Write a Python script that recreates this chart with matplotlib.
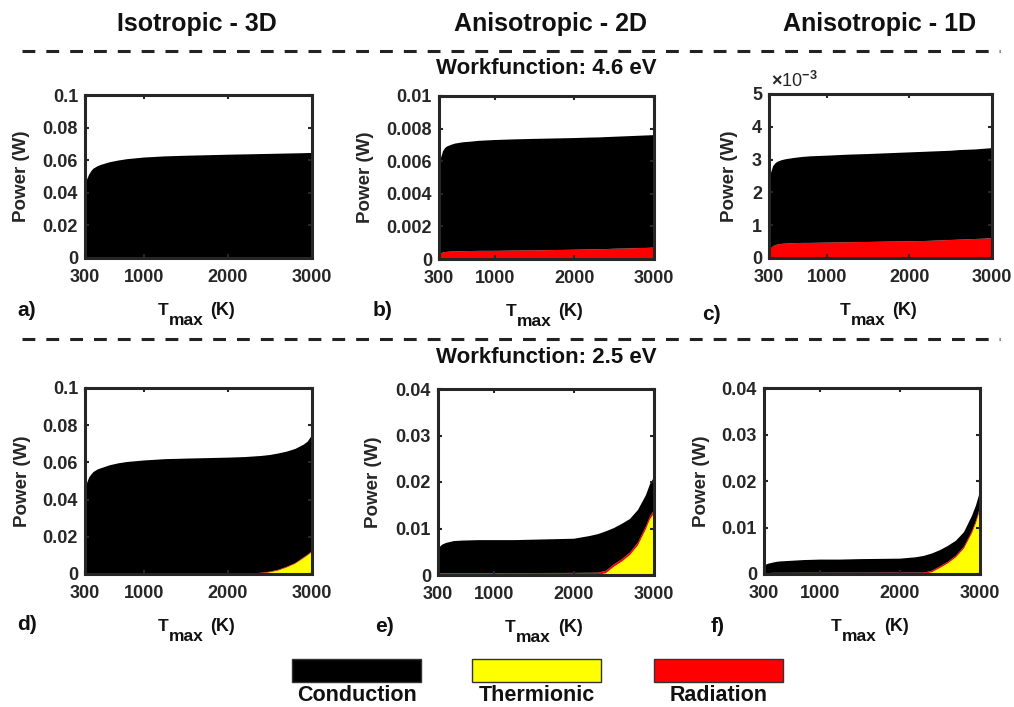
"""Power balance (conduction / thermionic / radiation) vs T_max for two workfunctions"""

import matplotlib as mpl
import matplotlib.pyplot as plt
from matplotlib.lines import Line2D
from matplotlib.patches import Rectangle
from matplotlib.ticker import FuncFormatter

mpl.rcParams["font.family"] = ["Liberation Sans", "DejaVu Sans"]
mpl.rcParams["font.weight"] = "bold"
mpl.rcParams["mathtext.fontset"] = "custom"
mpl.rcParams["mathtext.rm"] = "Liberation Sans"
mpl.rcParams["mathtext.bf"] = "Liberation Sans:bold"

# --- data ---
t_max = [300, 310, 325, 350, 375, 400, 450, 500, 600, 700, 800, 1000, 1250,
         1500, 2000, 2200, 2300, 2400, 2500, 2600, 2700, 2800, 2900, 2950, 3000]

# workfunction 4.6 eV
a_cond = [0.038, 0.044, 0.048, 0.051, 0.053, 0.0545, 0.056, 0.057, 0.0585, 0.0595,
          0.0603, 0.0613, 0.062, 0.0624, 0.063, 0.0632, 0.0633, 0.0634, 0.0635,
          0.0636, 0.0637, 0.0638, 0.0639, 0.064, 0.064]
a_rad = [0.0001, 0.00015, 0.0002, 0.00025, 0.00027, 0.00028, 0.0003, 0.0003, 0.00031,
         0.00032, 0.00032, 0.00033, 0.00034, 0.00034, 0.00036, 0.00037, 0.00037,
         0.00038, 0.00038, 0.00039, 0.0004, 0.0004, 0.00041, 0.00041, 0.00042]
a_th = [0.0] * 25

b_cond = [0.0045, 0.0054, 0.00585, 0.0062, 0.00638, 0.00646, 0.00654, 0.00661,
          0.00668, 0.00671, 0.00675, 0.0068, 0.00682, 0.00684, 0.00685, 0.00686,
          0.00686, 0.00687, 0.00687, 0.00688, 0.00689, 0.00689, 0.0069, 0.0069, 0.0069]
b_rad = [0.0002, 0.0003, 0.00035, 0.0004, 0.00042, 0.00044, 0.00046, 0.00047, 0.00048,
         0.00049, 0.0005, 0.0005, 0.00052, 0.00053, 0.00057, 0.00059, 0.0006, 0.00061,
         0.00063, 0.00064, 0.00065, 0.00067, 0.00068, 0.00069, 0.0007]
b_th = [0.0] * 25

c_cond = [0.0018, 0.0022, 0.0023, 0.00244, 0.00249, 0.00252, 0.00255, 0.00257,
          0.0026, 0.00262, 0.00264, 0.00265, 0.00267, 0.00268, 0.00271, 0.00272,
          0.00272, 0.00272, 0.00272, 0.00273, 0.00273, 0.00273, 0.00274, 0.00274, 0.00275]
c_rad = [0.00012, 0.00022, 0.0003, 0.00036, 0.00039, 0.00041, 0.00043, 0.00044,
         0.00045, 0.00046, 0.00046, 0.00047, 0.00048, 0.00049, 0.00051, 0.00052,
         0.00053, 0.00054, 0.00055, 0.00056, 0.00057, 0.00058, 0.00059, 0.0006, 0.0006]
c_th = [0.0] * 25

# workfunction 2.5 eV
d_cond = [0.0399, 0.0448, 0.0488, 0.0517, 0.0532, 0.0545, 0.0559, 0.0567, 0.0582,
          0.0592, 0.0599, 0.0607, 0.0614, 0.0617, 0.0622, 0.0625, 0.0628, 0.0628,
          0.0627, 0.0625, 0.0619, 0.0613, 0.0606, 0.0607, 0.0623]
d_rad = [0.0001, 0.00015, 0.0002, 0.00025, 0.00027, 0.00028, 0.0003, 0.0003, 0.00031,
         0.00032, 0.00032, 0.00033, 0.00034, 0.00034, 0.00036, 0.00037, 0.00037,
         0.00038, 0.00038, 0.00039, 0.0004, 0.0004, 0.00041, 0.00041, 0.00042]
d_th = [0, 0, 0, 0, 0, 0, 0, 0, 0, 0, 0, 0, 0, 0, 0, 0, 0, 0.0003, 0.0009,
        0.0019, 0.0035, 0.0055, 0.0085, 0.0101, 0.0119]

e_cond = [0.0048, 0.0053, 0.00575, 0.00613, 0.00632, 0.0065, 0.0067, 0.0069, 0.007,
          0.00705, 0.0071, 0.0071, 0.00708, 0.00717, 0.00735, 0.00792, 0.0083, 0.0085,
          0.0078, 0.0076, 0.0072, 0.007, 0.0067, 0.0069, 0.0071]
e_rad = [0.0002, 0.0003, 0.00035, 0.00037, 0.00038, 0.0004, 0.0004, 0.0004, 0.0004,
         0.0004, 0.0004, 0.0004, 0.00042, 0.00043, 0.00045, 0.00048, 0.0005, 0.0005,
         0.0005, 0.00052, 0.00055, 0.0006, 0.0006, 0.00065, 0.0007]
e_th = [0, 0, 0, 0, 0, 0, 0, 0, 0, 0, 0, 0, 0, 0, 0, 0, 0, 0.0004, 0.0018,
        0.0029, 0.0043, 0.0064, 0.0099, 0.012, 0.0132]

f_cond = [0.0012, 0.00155, 0.0018, 0.002, 0.00208, 0.00215, 0.00235, 0.00245, 0.00254,
          0.00264, 0.00273, 0.00283, 0.00282, 0.00292, 0.003, 0.0033, 0.0036, 0.0037,
          0.0035, 0.0034, 0.0032, 0.0031, 0.0033, 0.0033, 0.0034]
f_rad = [0.0001, 0.00015, 0.0002, 0.0002, 0.00022, 0.00025, 0.00025, 0.00025, 0.00026,
         0.00026, 0.00027, 0.00027, 0.00028, 0.00028, 0.0003, 0.0003, 0.0003, 0.00032,
         0.00033, 0.00035, 0.00037, 0.0004, 0.00042, 0.00045, 0.0005]
f_th = [0, 0, 0, 0, 0, 0, 0, 0, 0, 0, 0, 0, 0, 0, 0, 0, 0, 0.0004, 0.0013,
        0.0023, 0.0036, 0.0055, 0.0088, 0.011, 0.0138]

x_ticks = [300, 1000, 2000, 3000]
col_titles = ["Isotropic - 3D", "Anisotropic - 2D", "Anisotropic - 1D"]
row_titles = ["Workfunction: 4.6 eV", "Workfunction: 2.5 eV"]
legend_labels = ["Conduction", "Thermionic", "Radiation"]
colors = {"cond": "#000000", "th": "#ffff00", "rad": "#ff0000"}

# --- figure / layout in pixels ---
W, H = 1014, 707
fig = plt.figure(figsize=(W / 100, H / 100), dpi=100)
INK = "#262626"
TXT = "#111111"


def box(left, top, right, bottom):
    """pixel box -> figure fraction rect"""
    return [left / W, 1 - bottom / H, (right - left) / W, (bottom - top) / H]


def ftext(x, y, s, **kw):
    return fig.text(x / W, 1 - y / H, s, **kw)


panels = [
    # (letter, box, cond, rad, th, ymax, ystep, scale, ylabel_x, letter_xy)
    ("a)", (85, 95, 312, 258), a_cond, a_rad, a_th, 0.1, 0.02, 1, 22, (27, 311)),
    ("b)", (439, 96, 654, 259), b_cond, b_rad, b_th, 0.01, 0.002, 1, 365, (383, 311)),
    ("c)", (769, 94, 992, 258), c_cond, c_rad, c_th, 0.005, 0.001, 1e3, 730, (711, 314)),
    ("d)", (85, 388, 312, 574), d_cond, d_rad, d_th, 0.1, 0.02, 1, 23, (27, 624)),
    ("e)", (438, 389, 654, 575), e_cond, e_rad, e_th, 0.04, 0.01, 1, 373, (385, 626)),
    ("f)", (764, 388, 980, 574), f_cond, f_rad, f_th, 0.04, 0.01, 1, 701, (718, 626)),
]

for letter, (l, t, r, b), cond, rad, th, ymax, ystep, scale, ylx, (lx, ly) in panels:
    ax = fig.add_axes(box(l, t, r, b))
    # stacked: thermionic at the bottom, radiation, then conduction
    ax.stackplot(t_max, th, rad, cond,
                 colors=[colors["th"], colors["rad"], colors["cond"]],
                 linewidth=0, antialiased=True)
    ax.set_xlim(300, 3000)
    ax.set_ylim(0, ymax)
    ax.set_xticks(x_ticks)
    n = int(round(ymax / ystep))
    ax.set_yticks([i * ystep for i in range(n + 1)])
    ax.yaxis.set_major_formatter(FuncFormatter(lambda v, _, s=scale: f"{round(v * s, 6):g}"))
    ax.tick_params(direction="in", top=True, right=True, length=3, width=1.5,
                   color=INK, labelsize=13, labelcolor=INK)
    ax.tick_params(axis="x", pad=8)
    ax.tick_params(axis="y", pad=5)
    for lab in ax.get_xticklabels() + ax.get_yticklabels():
        lab.set_fontweight("bold")
    for sp in ax.spines.values():
        sp.set_linewidth(2.2)
        sp.set_color(INK)
        sp.set_zorder(5)

    ftext(ylx, (t + b) / 2, "Power (W)", rotation=90, ha="center", va="center",
          fontsize=13.5, color=INK)
    # T_max (K) with a MATLAB-style full size subscript
    cx = (l + r) / 2
    ftext(cx - 41, b + 57, "T", ha="left", va="baseline", fontsize=12.5, color=TXT)
    ftext(cx - 30, b + 67, "max", ha="left", va="baseline", fontsize=12.5, color=TXT)
    ftext(cx + 12, b + 57, "(K)", ha="left", va="baseline", fontsize=13, color=TXT)
    ftext(lx, ly, letter, ha="center", va="center", fontsize=15, color=TXT)

# x10^-3 multiplier on panel c
ftext(771, 87, r"$\times$10$^{-3}$", ha="left", va="baseline", fontsize=13,
      color=INK, fontweight="normal")

# column and row headings
for cx, s in zip([197, 550, 880], col_titles):
    ftext(cx, 31, s, ha="center", va="baseline", fontsize=18, color=TXT)
ftext(546, 74, row_titles[0], ha="center", va="baseline", fontsize=16, color=TXT)
ftext(546, 363, row_titles[1], ha="center", va="baseline", fontsize=16, color=TXT)

# dashed separators
for yy in (51, 339):
    ln = Line2D([22 / W, 1000 / W], [1 - yy / H, 1 - yy / H], transform=fig.transFigure,
                color="#222222", linewidth=2.2, dashes=(4.2, 3.6))
    fig.add_artist(ln)

# legend blocks
for (x0, x1), key, s in zip([(292, 421), (472, 601), (654, 783)],
                            ["cond", "th", "rad"], legend_labels):
    rect = Rectangle((x0 / W, 1 - 682 / H), (x1 - x0) / W, 23 / H,
                     transform=fig.transFigure, facecolor=colors[key],
                     edgecolor="#333333", linewidth=1.0)
    fig.add_artist(rect)
    ftext((x0 + x1) / 2, 701, s, ha="center", va="baseline", fontsize=15.5, color=TXT)

fig.savefig("out.png", dpi=100)
